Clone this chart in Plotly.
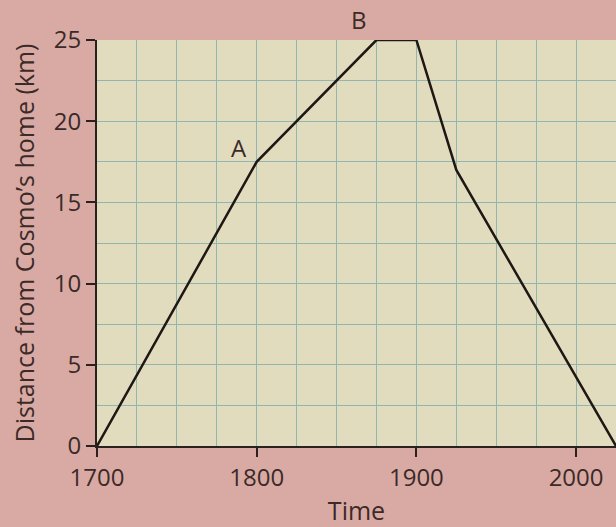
import plotly.graph_objects as go

time = [1700, 1800, 1875, 1900, 1925, 2025]
distance = [0, 17.5, 25, 25, 17, 0]
x_ticks = [1700, 1800, 1900, 2000]
y_ticks = [0, 5, 10, 15, 20, 25]
point_labels = ["A", "B"]
label_x = [1789, 1864]
label_y = [18.4, 25]

txt = "#3b2a27"
grid = "#93b5b0"
axc = "#2a201d"
FONT = "Open Sans"

fig = go.Figure()
fig.add_trace(go.Scatter(x=time, y=distance, mode="lines",
                         line=dict(color="#1e1714", width=2.5),
                         showlegend=False, cliponaxis=False))

for t, lx, ly in zip(point_labels, label_x, label_y):
    fig.add_annotation(x=lx, y=ly, text=t, showarrow=False,
                       yanchor="bottom" if ly >= 25 else "middle",
                       yshift=2 if ly >= 25 else 0,
                       font=dict(size=24, color=txt, family=FONT))

fig.update_layout(
    width=616, height=527,
    margin=dict(l=97, r=0, t=40, b=81),
    paper_bgcolor="#d9aaa4",
    plot_bgcolor="#e2dcbf",
    font=dict(family=FONT, size=24, color=txt),
    xaxis=dict(range=[1700, 2025], tickvals=x_ticks, showgrid=True,
               gridcolor=grid, gridwidth=1,
               minor=dict(dtick=25, tick0=1700, showgrid=True, gridcolor=grid, gridwidth=1),
               showline=True, linecolor=axc, linewidth=2,
               ticks="outside", ticklen=9, tickcolor=axc, tickwidth=1.5,
               zeroline=False, automargin=False,
               title=dict(text="Time", standoff=12, font=dict(size=25, color=txt))),
    yaxis=dict(range=[0, 25], tickvals=y_ticks, showgrid=True,
               gridcolor=grid, gridwidth=1,
               minor=dict(dtick=2.5, tick0=0, showgrid=True, gridcolor=grid, gridwidth=1),
               showline=True, linecolor=axc, linewidth=2,
               ticks="outside", ticklen=9, tickcolor=axc, tickwidth=1.5,
               zeroline=False, automargin=False,
               title=dict(text="Distance from Cosmo’s home (km)", standoff=12,
                          font=dict(size=25, color=txt))),
)

fig.write_html("out.html", config={"displayModeBar": False},
               post_script="document.body.style.margin='0';document.body.style.overflow='hidden';")
